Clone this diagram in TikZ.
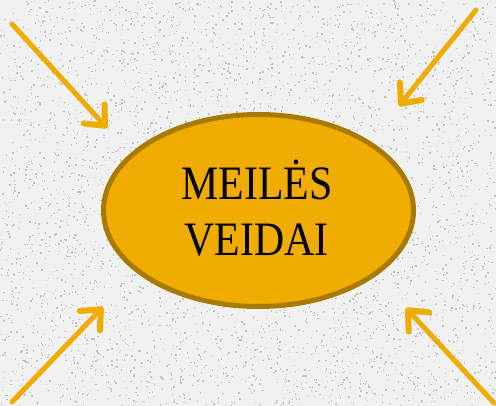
\documentclass[tikz,border=0pt]{standalone}
\usepackage{fontspec}
\setmainfont{Liberation Serif}
\usetikzlibrary{arrows.meta,shapes.geometric}
\definecolor{gold}{HTML}{F0AC00}
\definecolor{goldedge}{HTML}{A87B00}
\definecolor{bgbase}{HTML}{F1F1F1}
\definecolor{bgdot}{HTML}{C4C4C4}
\tikzset{
  ray/.style={draw=gold, line width=5pt, line cap=round,
    -{Straight Barb[length=16pt, width=28pt, line width=6pt, round]}},
  core/.style={ellipse, draw=goldedge, fill=gold, line width=5pt,
    minimum width=310pt, minimum height=192pt, inner sep=0pt},
  title/.style={font=\fontsize{48}{56}\selectfont, align=center, text=black}
}
\begin{document}
\begin{tikzpicture}[x=1pt,y=-1pt]
\useasboundingbox (0,0) rectangle (496,406);
\fill[bgbase] (0,0) rectangle (496,406);
\pgfmathsetseed{7}
\foreach \i in {1,...,4500}{
  \pgfmathsetmacro\px{rnd*496}
  \pgfmathsetmacro\py{rnd*406}
  \fill[bgdot] (\px,\py) rectangle ++(1.4,1.4);
}
\node[core] (c) at (258.5,210.5) {};
\node[title, anchor=base] (t1) at (257,200) {\scalebox{0.87}[1]{MEILĖS}};
\node[title, anchor=base] (t2) at (256.5,256) {\scalebox{0.87}[1]{VEIDAI}};
\coordinate (a1s) at (12,24);  \coordinate (a1e) at (107,128);
\coordinate (a2s) at (476,10); \coordinate (a2e) at (399,106);
\coordinate (a3s) at (12,402); \coordinate (a3e) at (103,307);
\coordinate (a4s) at (494,403);\coordinate (a4e) at (406,308);
\draw[ray] (a1s) -- (a1e);
\draw[ray] (a2s) -- (a2e);
\draw[ray] (a3s) -- (a3e);
\draw[ray] (a4s) -- (a4e);
\end{tikzpicture}
\end{document}
